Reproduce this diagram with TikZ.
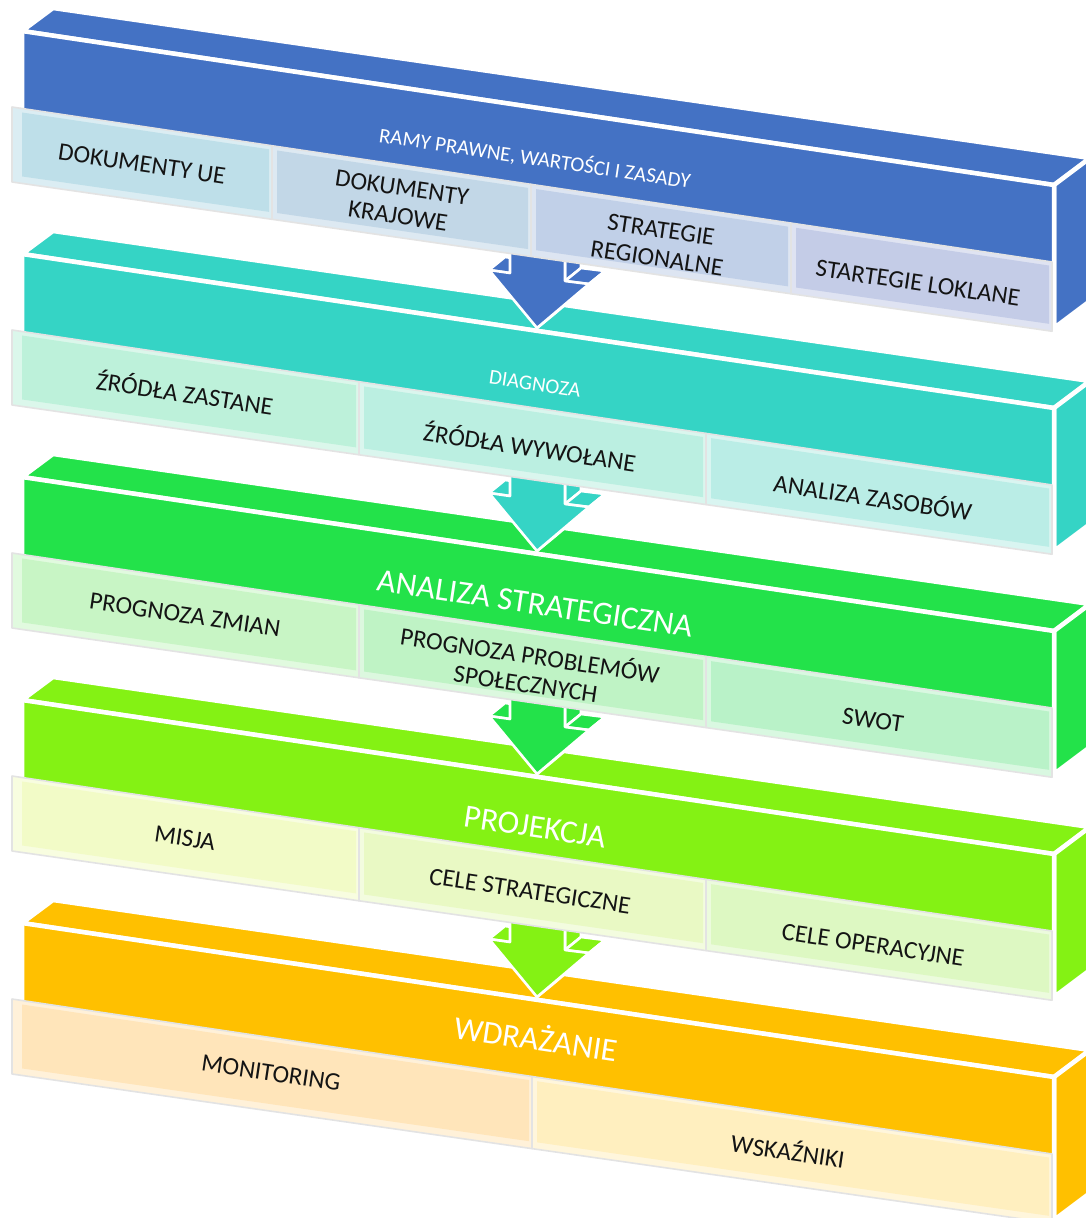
\documentclass[tikz,border=0pt]{standalone}
\usepackage{fontspec}
\setmainfont{Carlito}
\definecolor{cBlue}{HTML}{4472C4}
\definecolor{cTeal}{HTML}{35D4C5}
\definecolor{cGreen}{HTML}{23E24A}
\definecolor{cLime}{HTML}{84F214}
\definecolor{cAmber}{HTML}{FFC000}
\definecolor{a1}{HTML}{BEDFE9}
\definecolor{a2}{HTML}{C2D7E7}
\definecolor{a3}{HTML}{C1D0E8}
\definecolor{a4}{HTML}{C4CCE7}
\definecolor{b1}{HTML}{BDF1DA}
\definecolor{b2}{HTML}{BBEFE1}
\definecolor{b3}{HTML}{BAEDE6}
\definecolor{g1}{HTML}{C8F5C5}
\definecolor{g2}{HTML}{BFF3C5}
\definecolor{g3}{HTML}{B9F2C8}
\definecolor{l1}{HTML}{F2FBC7}
\definecolor{l2}{HTML}{E9F9C4}
\definecolor{l3}{HTML}{DDF8C2}
\definecolor{o1}{HTML}{FFE5BA}
\definecolor{o2}{HTML}{FFEFBF}
\newcommand\tierbox[2]{%
  \begin{scope}[shift={(0,#1)}]
    \filldraw[face, fill=#2] (22,31) -- (1054,185) -- (1090,158) -- (53,8) -- cycle;
    \filldraw[face, fill=#2] (1054,185) -- (1090,158) -- (1090,301) -- (1054,328) -- cycle;
    \filldraw[face, fill=#2] (22,31) -- (1054,185) -- (1054,328) -- (22,181) -- cycle;
  \end{scope}}
\newcommand\tierarrow[2]{%
  \begin{scope}[shift={(0,#1)}]
    \filldraw[arrbd, fill=#2] (565,250) -- (581,237) -- (581,268) -- (565,281) -- cycle;
    \filldraw[arrbd, fill=#2] (565,281) -- (589,284) -- (605,271) -- (581,268) -- cycle;
    \filldraw[arrbd, fill=#2] (589,284) -- (537,328) -- (553,315) -- (605,271) -- cycle;
    \filldraw[arrbd, fill=#2] (489,270) -- (510,273) -- (526,260) -- (505,257) -- cycle;
    \filldraw[arrbd, fill=#2] (510,242) -- (565,250) -- (565,281) -- (589,284) -- (537,328) -- (489,270) -- (510,273) -- cycle;
  \end{scope}}
\newcommand\cellbox[5]{%
  \filldraw[cellbd, fill=#4!55!white] ({#2},{107+#1+0.149*(#2-12)}) -- ({#3},{107+#1+0.149*(#3-12)}) -- ({#3},{182+#1+0.1435*(#3-12)}) -- ({#2},{182+#1+0.1435*(#2-12)}) -- cycle;
  \fill[#4] ({#2+#5},{111+#1+0.149*(#2+#5-12)}) -- ({#3-3},{111+#1+0.149*(#3-15)}) -- ({#3-3},{175+#1+0.1435*(#3-15)}) -- ({#2+#5},{175+#1+0.1435*(#2+#5-12)}) -- cycle;}
\begin{document}
\begin{tikzpicture}[x=1pt,y=-1pt,
  face/.style={draw=white, line width=4.5pt, line join=round},
  arrbd/.style={draw=white, line width=2.6pt, line join=round},
  cellbd/.style={draw=black!11, line width=1.6pt, line join=round},
  celltext/.style={inner sep=0pt, align=center, rotate=-8.45, text=black!92, font=\fontsize{25}{28.5}\selectfont},
  titlesmall/.style={inner sep=0pt, rotate=-8.45, text=white, font=\fontsize{21}{24}\selectfont},
  titlebig/.style={inner sep=0pt, rotate=-8.45, text=white, font=\fontsize{32.5}{36}\selectfont}]
\useasboundingbox (0,0) rectangle (1086,1218);
\clip (0,0) rectangle (1086,1218);
% tier boxes
\tierbox{0}{cBlue}
\tierbox{223}{cTeal}
\tierbox{446}{cGreen}
\tierbox{669}{cLime}
\tierbox{892}{cAmber}
% arrows
\tierarrow{0}{cBlue}
\tierarrow{223}{cTeal}
\tierarrow{446}{cGreen}
\tierarrow{669}{cLime}
% strips
\cellbox{0}{12}{272}{a1}{10}
\cellbox{0}{272}{531}{a2}{5}
\cellbox{0}{531}{791}{a3}{5}
\cellbox{0}{791}{1052}{a4}{5}
\cellbox{223}{12}{359}{b1}{10}
\cellbox{223}{359}{706}{b2}{5}
\cellbox{223}{706}{1052}{b3}{5}
\cellbox{446}{12}{359}{g1}{10}
\cellbox{446}{359}{706}{g2}{5}
\cellbox{446}{706}{1052}{g3}{5}
\cellbox{669}{12}{359}{l1}{10}
\cellbox{669}{359}{706}{l2}{5}
\cellbox{669}{706}{1052}{l3}{5}
\cellbox{892}{12}{532}{o1}{10}
\cellbox{892}{532}{1052}{o2}{5}
% titles
\node[titlesmall] (t1) at (535,158) {RAMY PRAWNE, WARTOŚCI I ZASADY};
\node[titlesmall] (t2) at (535,384) {DIAGNOZA};
\node[titlebig] (t3) at (535,604) {ANALIZA STRATEGICZNA};
\node[titlebig] (t4) at (535,827) {PROJEKCJA};
\node[titlebig] (t5) at (536,1037) {WDRAŻANIE};
% cell texts
\node[celltext] (c11) at (142,164) {DOKUMENTY UE};
\node[celltext] (c12) at (400,202) {DOKUMENTY\\KRAJOWE};
\node[celltext] (c13) at (659,244) {STRATEGIE\\REGIONALNE};
\node[celltext] (c14) at (918,283) {STARTEGIE LOKLANE};
\node[celltext] (c21) at (185,392) {ŹRÓDŁA ZASTANE};
\node[celltext] (c22) at (530,446) {ŹRÓDŁA WYWOŁANE};
\node[celltext] (c23) at (873,496) {ANALIZA ZASOBÓW};
\node[celltext] (c31) at (185,615) {PROGNOZA ZMIAN};
\node[celltext] (c32) at (528,668) {PROGNOZA PROBLEMÓW\\SPOŁECZNYCH};
\node[celltext] (c33) at (873,720) {SWOT};
\node[celltext] (c41) at (185,838) {MISJA};
\node[celltext] (c42) at (530,891) {CELE STRATEGICZNE};
\node[celltext] (c43) at (873,945) {CELE OPERACYJNE};
\node[celltext] (c51) at (271,1073) {MONITORING};
\node[celltext] (c52) at (788,1150) {WSKAŹNIKI};
\end{tikzpicture}
\end{document}
